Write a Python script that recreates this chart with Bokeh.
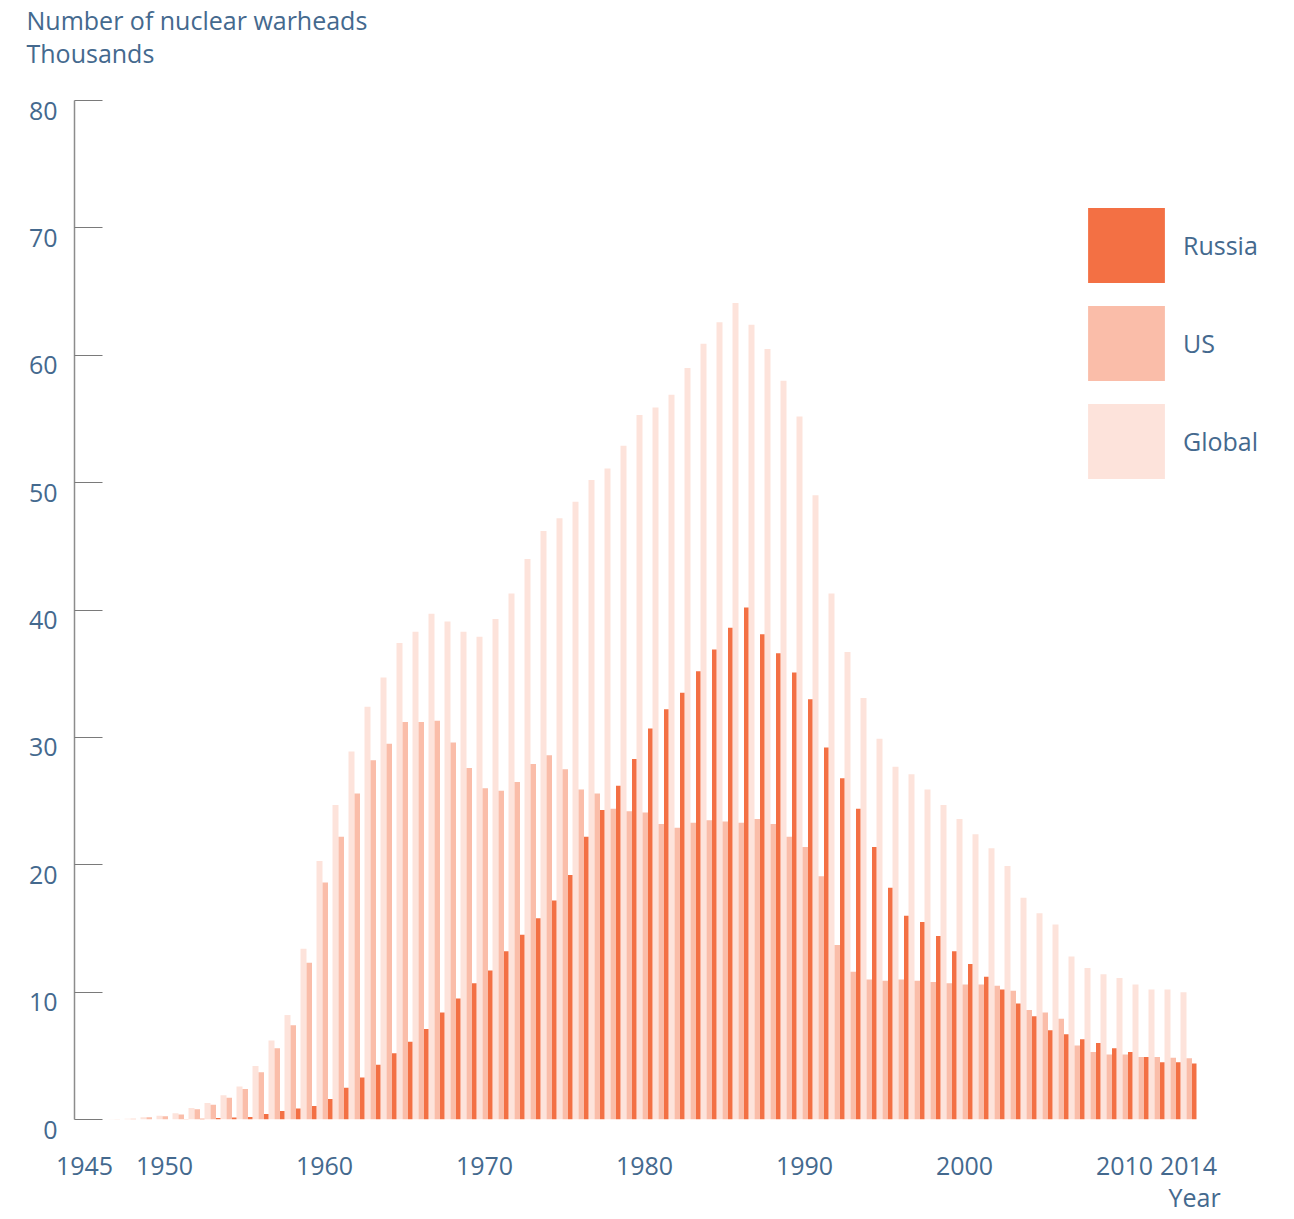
from bokeh.plotting import figure
from bokeh.models import ColumnDataSource, FixedTicker, Legend, LegendItem, Title
from bokeh.transform import dodge
from bokeh.embed import file_html
from bokeh.resources import INLINE

years = list(range(1945, 2015))

# thousands of warheads
global_k = [0.002, 0.009, 0.013, 0.05, 0.17, 0.3, 0.5, 0.9, 1.3, 1.9,
            2.6, 4.2, 6.2, 8.2, 13.4, 20.3, 24.7, 28.9, 32.4, 34.7,
            37.4, 38.3, 39.7, 39.1, 38.3, 37.9, 39.3, 41.3, 44.0, 46.2,
            47.2, 48.5, 50.2, 51.1, 52.9, 55.3, 55.9, 56.9, 59.0, 60.9,
            62.6, 64.1, 62.4, 60.5, 58.0, 55.2, 49.0, 41.3, 36.7, 33.1,
            29.9, 27.7, 27.1, 25.9, 24.7, 23.6, 22.4, 21.3, 19.9, 17.4,
            16.2, 15.3, 12.8, 11.9, 11.4, 11.1, 10.6, 10.2, 10.2, 10.0]

us_k = [0.002, 0.009, 0.013, 0.05, 0.17, 0.25, 0.4, 0.8, 1.15, 1.7,
        2.4, 3.7, 5.6, 7.4, 12.3, 18.6, 22.2, 25.6, 28.2, 29.5,
        31.2, 31.2, 31.3, 29.6, 27.6, 26.0, 25.8, 26.5, 27.9, 28.6,
        27.5, 25.9, 25.6, 24.4, 24.2, 24.1, 23.2, 22.9, 23.3, 23.5,
        23.4, 23.3, 23.6, 23.2, 22.2, 21.4, 19.1, 13.7, 11.6, 11.0,
        10.9, 11.0, 10.9, 10.8, 10.7, 10.6, 10.6, 10.5, 10.1, 8.6,
        8.4, 7.9, 5.8, 5.3, 5.1, 5.1, 4.9, 4.9, 4.85, 4.8]

russia_k = [0.0, 0.0, 0.0, 0.0, 0.001, 0.005, 0.025, 0.05, 0.12, 0.15,
            0.2, 0.43, 0.66, 0.87, 1.06, 1.6, 2.5, 3.3, 4.3, 5.2,
            6.1, 7.1, 8.4, 9.5, 10.7, 11.7, 13.2, 14.5, 15.8, 17.2,
            19.2, 22.2, 24.3, 26.2, 28.3, 30.7, 32.2, 33.5, 35.2, 36.9,
            38.6, 40.2, 38.1, 36.6, 35.1, 33.0, 29.2, 26.8, 24.4, 21.4,
            18.2, 16.0, 15.5, 14.4, 13.2, 12.2, 11.2, 10.2, 9.1, 8.1,
            7.0, 6.7, 6.3, 6.0, 5.6, 5.3, 4.9, 4.5, 4.5, 4.4]

x_ticks = [1945, 1950, 1960, 1970, 1980, 1990, 2000, 2010, 2014]
y_ticks = [0, 10, 20, 30, 40, 50, 60, 70, 80]

FONT = "Open Sans"
TXT = "#44698e"
C_RU = "#f37044"
C_US = "#fabda9"
C_GL = "#fde3db"

W, H = 1290, 1215
p = figure(width=W, height=H, output_backend="svg", toolbar_location=None,
           x_range=(1944.375, 2019.125), y_range=(0, 80),
           min_border_left=74, min_border_right=20,
           min_border_top=100, min_border_bottom=96)
p.outline_line_color = None
p.xgrid.visible = False
p.ygrid.visible = False
p.background_fill_color = "white"
p.border_fill_color = "white"

# two-line title (top left); trailing empty line keeps it clear of the frame
p.title.text = "Number of nuclear warheads\nThousands\n"
p.title.align = "left"
p.title.offset = -48
p.title.standoff = -5
p.title.text_line_height = 0.967
p.title.text_font = FONT
p.title.text_font_size = "25px"
p.title.text_font_style = "normal"
p.title.text_color = TXT

src = ColumnDataSource(dict(year=years, glob=global_k, us=us_k, ru=russia_k))
g = p.vbar(x=dodge('year', -0.3125), top='glob', bottom=0, width=0.375,
           source=src, fill_color=C_GL, line_color=None)
u = p.vbar(x=dodge('year', 0.046875), top='us', bottom=0, width=0.34375,
           source=src, fill_color=C_US, line_color=None)
r = p.vbar(x=dodge('year', 0.359375), top='ru', bottom=0, width=0.28125,
           source=src, fill_color=C_RU, line_color=None)

# y axis
ya = p.yaxis[0]
ya.ticker = FixedTicker(ticks=y_ticks)
ya.major_label_overrides = {v: "\n" + str(v) for v in y_ticks}
ya.major_label_text_line_height = 0.53
ya.axis_line_color = "#8c8c8c"
ya.axis_line_width = 1.5
ya.major_tick_in = 28
ya.major_tick_out = 0
ya.major_tick_line_color = "#7a7a7a"
ya.major_tick_line_width = 1.2
ya.minor_tick_line_color = None
ya.major_label_text_font = FONT
ya.major_label_text_font_size = "25px"
ya.major_label_text_color = TXT
ya.major_label_standoff = 17

# x axis
xa = p.xaxis[0]
xa.ticker = FixedTicker(ticks=x_ticks)
xa.axis_line_color = None
xa.major_tick_line_color = None
xa.minor_tick_line_color = None
xa.major_tick_in = 0
xa.major_tick_out = 0
xa.major_label_text_font = FONT
xa.major_label_text_font_size = "25px"
xa.major_label_text_color = TXT
xa.major_label_standoff = 37

# x-axis title, bottom right
p.add_layout(Title(text="Year", align="left", offset=1094, standoff=1,
                   vertical_align="bottom",
                   text_font=FONT, text_font_size="25px",
                   text_font_style="normal", text_color=TXT), "below")

legend = Legend(items=[LegendItem(label="Russia", renderers=[r]),
                       LegendItem(label="US", renderers=[u]),
                       LegendItem(label="Global", renderers=[g])],
                location=(1004, 631), glyph_width=96, glyph_height=94,
                spacing=4, label_standoff=9, padding=0, margin=0,
                border_line_color=None, background_fill_alpha=0,
                label_text_font=FONT, label_text_font_size="25px",
                label_text_color=TXT)
p.add_layout(legend)

open("out.html", "w").write(file_html(p, INLINE))
